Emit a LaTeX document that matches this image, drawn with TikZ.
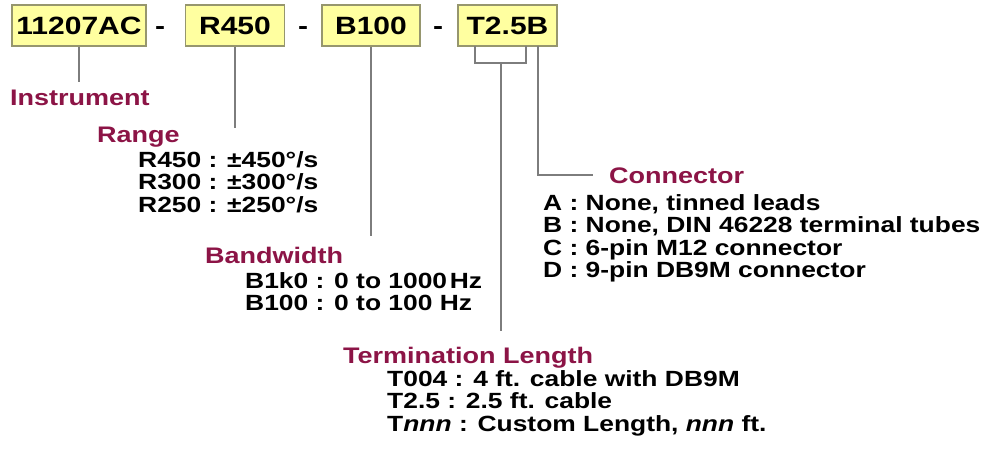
\documentclass[tikz,border=0pt]{standalone}
\usepackage{fontspec}
\setmainfont{Liberation Sans}[FakeStretch=1.2]
\definecolor{boxfill}{RGB}{255,255,160}
\definecolor{boxedge}{RGB}{150,150,110}
\definecolor{labred}{RGB}{140,20,70}
\definecolor{leadgray}{RGB}{125,125,125}
\tikzset{
  codebox/.style={draw=boxedge, fill=boxfill, line width=1.2pt, minimum height=41pt, inner sep=0pt,
    font=\fontsize{25}{25}\selectfont\bfseries},
  dashtxt/.style={anchor=base, inner sep=0pt, font=\fontsize{25}{25}\selectfont\bfseries},
  lab/.style={anchor=base west, inner sep=0pt, text=labred, font=\fontsize{22.5}{23}\selectfont\bfseries},
  item/.style={anchor=base west, inner sep=0pt, font=\fontsize{22}{22}\selectfont\bfseries},
  lead/.style={draw=leadgray, line width=2pt}
}
\begin{document}
\begin{tikzpicture}[x=1pt,y=-1pt]
\useasboundingbox[fill=white] (0,0) rectangle (989,450);

% code boxes
\node[codebox, minimum width=134pt] (b1) at (79,25.5) {11207AC};
\node[codebox, minimum width=99pt] (b2) at (235,25.5) {R450};
\node[codebox, minimum width=98pt] (b3) at (371,25.5) {B100};
\node[codebox, minimum width=99pt] (b4) at (507.5,25.5) {T2.5B};
\node[dashtxt] (d1) at (160,34.5) {-};
\node[dashtxt] (d2) at (303,34.5) {-};
\node[dashtxt] (d3) at (438,34.5) {-};

% labels
\node[lab] (instr) at (10,105) {Instrument};
\node[lab] (range) at (97,142) {Range};
\node[lab] (band) at (205,263) {Bandwidth};
\node[lab] (term) at (343,363) {Termination Length};
\node[lab] (conn) at (609,183) {Connector};

% items
\node[item] (r1) at (138,167) {R450 : ±450°/s};
\node[item] (r2) at (138,189.5) {R300 : ±300°/s};
\node[item] (r3) at (138,212) {R250 : ±250°/s};

\node[item] (w1) at (245,288) {B1k0 : 0 to 1000\hspace{0.12em}Hz};
\node[item] (w2) at (245,310.5) {B100 : 0 to 100 Hz};

\node[item] (c1) at (543,210) {A : None, tinned leads};
\node[item] (c2) at (543,232.5) {B : None, DIN 46228 terminal tubes};
\node[item] (c3) at (543,255) {C : 6-pin M12 connector};
\node[item] (c4) at (543,277.5) {D : 9-pin DB9M connector};

\node[item] (t1) at (387,386) {T004 : 4 ft. cable with DB9M};
\node[item] (t2) at (387,408.5) {T2.5 : 2.5 ft. cable};
\node[item] (t3) at (387,431) {T\textit{nnn} : Custom Length, \textit{nnn} ft.};

% leads
\coordinate (e1) at (79,82);
\coordinate (e2) at (235,128);
\coordinate (e3) at (371,236);
\coordinate (e4) at (501,331);
\coordinate (e5) at (593,175);
\coordinate (bl) at (475,46);
\coordinate (br) at (526,46);
\coordinate (bm) at (501,63);
\coordinate (bc) at (538,46);

\draw[lead] (b1.south) -- (e1);
\draw[lead] (b2.south) -- (e2);
\draw[lead] (b3.south) -- (e3);
\draw[lead] (bl) |- (bm) -| (br);
\draw[lead] (bm) -- (e4);
\draw[lead] (bc) |- (e5);
\end{tikzpicture}
\end{document}
